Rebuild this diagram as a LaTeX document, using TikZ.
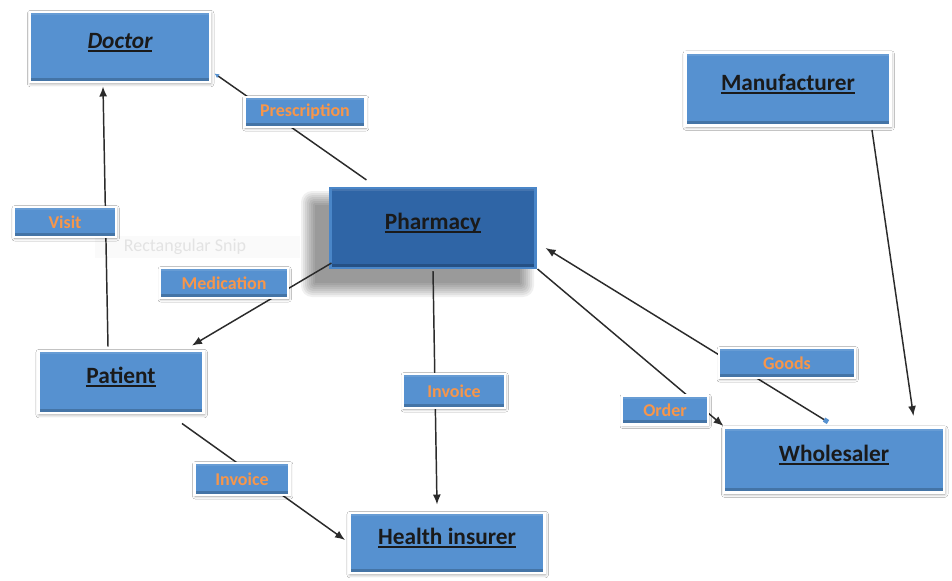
\documentclass[tikz,border=0pt]{standalone}
\usepackage{fontspec}
\setmainfont{Carlito}
\usetikzlibrary{arrows.meta,shadows.blur,calc}

\definecolor{boxblue}{HTML}{5691D0}
\definecolor{pharmblue}{HTML}{2F65A6}
\definecolor{pharmedge}{HTML}{4A86C8}
\definecolor{lblorange}{HTML}{F7964A}
\definecolor{linegray}{HTML}{2B2B2B}
\definecolor{inktext}{HTML}{1A1A1A}

% bold underline for the entity names
\newcommand\thickul[1]{\setbox0\hbox{#1}\leavevmode\rlap{\copy0}\rule[-2.6pt]{\wd0}{1.3pt}}

\tikzset{
  bevel/.style={path picture={
    \fill[black,opacity=0.20] ([yshift=3.2pt]path picture bounding box.south west)
      rectangle (path picture bounding box.south east);
    \fill[white,opacity=0.10] (path picture bounding box.north west)
      rectangle ([yshift=-2.5pt]path picture bounding box.north east);}},
  entity/.style={rectangle, fill=boxblue, draw=white, line width=2.2pt, bevel,
    blur shadow={shadow xshift=0.5pt, shadow yshift=-1.2pt,
      shadow blur radius=2.5pt, shadow opacity=40},
    font=\fontsize{17.5}{20}\selectfont\bfseries, text=inktext,
    text height=12pt, text depth=9.8pt},
  hub/.style={rectangle, fill=pharmblue, draw=pharmedge, line width=1.6pt, bevel,
    font=\fontsize{17.5}{20}\selectfont\bfseries, text=inktext,
    text height=12pt, text depth=9.8pt},
  flowlabel/.style={rectangle, fill=boxblue, draw=white, line width=2pt, bevel,
    blur shadow={shadow xshift=0.5pt, shadow yshift=-1pt,
      shadow blur radius=2pt, shadow opacity=40},
    font=\fontsize{13.5}{16}\selectfont\bfseries, text=lblorange,
    minimum height=22.5pt},
  ghost/.style={font=\fontsize{13.5}{16}\selectfont, text=gray!22},
  conn/.style={draw=linegray, line width=1.1pt},
  tip/.style={-{Latex[length=7.5pt,width=6pt]}}
}

\begin{document}
\begin{tikzpicture}[x=0.75pt,y=-0.75pt]
\useasboundingbox (0,0) rectangle (952,581);
\fill[white] (0,0) rectangle (952,581);

% faint tooltip left behind in the drawing
\fill[gray!4] (95,236) rectangle (300,258);
\node[ghost] (snip) at (185,247) {Rectangular Snip};

% soft shadow cast down and to the left of the pharmacy box
\foreach \e in {0,2,...,14}
  \fill[black, opacity=0.06, rounded corners=\e*0.6]
    (315-\e, 205-\e) rectangle (520+\e, 283+\e);

% entities
\node[entity, minimum width=135pt, minimum height=52.5pt] (doctor) at (120,47) {\thickul{\itshape Doctor}};
\node[entity, minimum width=153.75pt, minimum height=54.75pt] (maker) at (788,89) {\thickul{Manufacturer}};
\node[hub, minimum width=153.75pt, minimum height=60pt] (pharmacy) at (433,228) {\thickul{Pharmacy}};
\node[entity, minimum width=123.75pt, minimum height=46.5pt] (patient) at (121,382) {\thickul{Patient}};
\node[entity, minimum width=146.25pt, minimum height=45pt] (insurer) at (447,543) {\thickul{Health insurer}};
\node[entity, minimum width=165pt, minimum height=48.75pt] (wholesaler) at (834,460) {\thickul{Wholesaler}};

% flows
\draw[conn, -{Latex[length=3.5pt,width=3.5pt,color=boxblue]}]
  ($(pharmacy.north west)+(37,-7)$) -- ($(doctor.south east)+(3,-10)$);
\draw[conn, tip] ($(patient.north)+(-13,-3)$) -- ($(doctor.south)+(-17,3)$);
\draw[conn, tip] ($(pharmacy.south west)+(2,-6)$) -- ($(patient.north east)+(-13,-4)$);
\draw[conn, tip] ($(pharmacy.south)+(0,2)$) -- ($(insurer.north)+(-10,-7)$);
\draw[conn, tip] ($(patient.south east)+(-23,9)$) -- ($(insurer.west)+(-3,-3)$);
\draw[conn, tip] ($(pharmacy.south east)+(1,0)$) -- ($(wholesaler.north west)+(1,0)$);
\draw[conn, {Square[length=3.5pt,width=3.5pt,color=boxblue]}-{Latex[length=7.5pt,width=6pt]}]
  ($(wholesaler.north)+(-6,-4)$) -- ($(pharmacy.east)+(9,20)$);
\draw[conn, tip] ($(maker.south east)+(-20,3)$) -- ($(wholesaler.north east)+(-32,-10)$);

% flow labels
\node[flowlabel, minimum width=90.75pt] (lprescription) at (305,112) {Prescription};
\node[flowlabel, minimum width=76.5pt] (lvisit) at (65,222) {Visit};
\node[flowlabel, minimum width=96pt] (lmedication) at (224,283) {Medication};
\node[flowlabel, minimum width=76.5pt, minimum height=25.5pt] (linvoicemid) at (454,391) {Invoice};
\node[flowlabel, minimum width=102pt] (lgoods) at (787,363) {Goods};
\node[flowlabel, minimum width=64.5pt, minimum height=21.75pt] (lorder) at (665,410) {Order};
\node[flowlabel, minimum width=71.25pt, minimum height=24pt] (linvoicepat) at (242,479) {Invoice};
\end{tikzpicture}
\end{document}
